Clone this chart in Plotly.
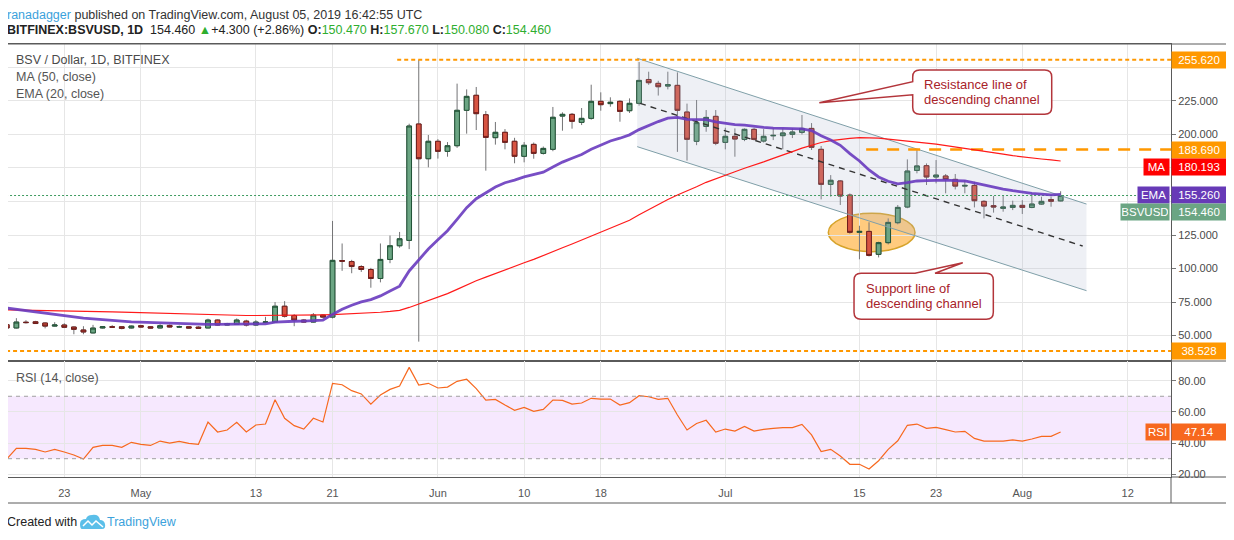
import pandas as pd
import plotly.graph_objects as go

# --- data (BSV / USD, daily, Bitfinex) ---
start = pd.Timestamp("2019-04-17")
dates = pd.date_range(start, periods=111, freq="D")

opens = [58.1, 55.7, 60.0, 60.3, 59.4, 57.1, 57.9, 56.4, 54.2, 52.0,
         55.7, 56.6, 56.6, 55.7, 57.4, 56.6, 55.7, 57.6, 56.4, 56.6,
         56.3, 55.7, 61.6, 57.9, 58.4, 60.8, 57.9, 59.8, 60.1, 71.9,
         65.0, 61.6, 60.1, 65.3, 63.8, 106.0, 105.2, 101.5, 99.3, 92.6,
         106.8, 117.0, 121.0, 207.8, 181.9, 194.9, 187.4, 191.6, 218.0, 229.2,
         214.7, 197.6, 201.6, 194.9, 183.7, 192.6, 185.9, 188.9, 213.7, 215.0,
         209.0, 212.0, 224.7, 223.0, 224.7, 217.7, 223.2, 241.0, 238.1, 236.1,
         236.6, 216.7, 194.9, 206.0, 213.5, 194.1, 198.6, 196.3, 203.8, 195.1,
         199.0, 199.1, 200.1, 201.6, 204.5, 188.9, 162.8, 165.3, 154.8, 127.0,
         127.7, 110.6, 119.3, 134.2, 145.9, 173.2, 176.7, 168.3, 169.0, 166.5,
         161.5, 162.0, 150.1, 146.9, 144.9, 145.6, 147.1, 145.6, 148.1, 151.5,
         150.47]
highs = [58.5, 63.0, 61.5, 61.0, 59.8, 60.0, 59.2, 56.8, 57.0, 58.0,
         57.0, 57.8, 57.0, 57.5, 58.0, 57.0, 58.5, 58.3, 57.5, 57.0,
         57.0, 62.6, 62.0, 59.5, 62.8, 61.8, 61.5, 64.0, 75.0, 75.7,
         66.0, 62.2, 66.8, 66.0, 135.5, 118.7, 106.5, 102.5, 100.5, 118.7,
         124.6, 127.3, 208.0, 255.62, 199.6, 196.5, 194.3, 237.9, 233.6, 235.4,
         217.5, 209.3, 204.0, 197.5, 194.3, 194.0, 191.0, 220.5, 216.5, 216.0,
         219.7, 237.1, 231.4, 227.7, 225.5, 226.9, 254.0, 246.8, 240.0, 246.8,
         246.3, 223.0, 225.7, 218.2, 218.2, 205.0, 204.5, 204.5, 205.0, 204.0,
         204.5, 204.5, 204.5, 214.5, 208.5, 191.4, 169.7, 166.0, 156.0, 131.9,
         134.5, 120.0, 137.4, 147.4, 181.4, 188.9, 178.4, 180.9, 170.5, 170.5,
         166.0, 164.7, 151.0, 154.1, 154.1, 150.6, 151.0, 156.1, 153.6, 153.6,
         157.67]
lows = [55.0, 55.3, 59.0, 58.8, 55.4, 56.8, 55.6, 51.0, 51.0, 51.7,
        55.3, 55.7, 54.7, 55.3, 56.0, 55.3, 55.4, 56.0, 55.8, 55.3,
        55.3, 55.5, 57.5, 57.6, 58.0, 56.8, 57.5, 59.2, 59.9, 63.5,
        57.0, 59.8, 59.8, 63.4, 62.8, 98.3, 96.5, 97.5, 85.7, 89.7,
        104.0, 115.5, 114.5, 45.5, 175.5, 182.0, 183.4, 190.0, 200.6, 203.3,
        173.0, 192.4, 188.9, 178.5, 179.2, 181.9, 185.0, 187.5, 202.8, 204.3,
        207.0, 211.0, 217.7, 220.7, 209.5, 216.0, 221.5, 237.0, 229.0, 233.6,
        187.0, 180.5, 192.0, 202.0, 192.0, 188.9, 183.4, 195.0, 195.5, 194.0,
        195.8, 188.9, 197.3, 200.0, 188.4, 151.6, 153.6, 147.4, 126.0, 106.9,
        109.0, 108.3, 118.0, 133.0, 145.0, 171.0, 162.3, 163.5, 156.1, 159.0,
        156.1, 145.6, 137.4, 141.7, 142.4, 143.6, 140.7, 145.0, 147.5, 146.1,
        150.08]
closes = [55.7, 60.1, 59.7, 59.0, 57.1, 57.9, 56.2, 54.7, 52.7, 55.6,
          56.6, 56.3, 55.4, 57.1, 56.4, 55.6, 57.4, 56.4, 56.6, 55.6,
          55.5, 61.6, 57.9, 59.0, 61.6, 57.9, 60.1, 60.2, 71.9, 64.5,
          61.6, 60.1, 65.3, 63.8, 106.1, 105.5, 101.5, 99.3, 92.6, 106.8,
          117.0, 122.2, 206.3, 181.9, 194.9, 187.4, 191.6, 218.0, 228.4, 215.5,
          197.8, 201.6, 194.1, 183.7, 191.9, 185.9, 189.6, 212.8, 215.0, 209.8,
          212.0, 224.7, 222.2, 224.0, 217.2, 223.2, 240.3, 238.6, 235.6, 237.1,
          218.0, 196.4, 208.8, 212.7, 193.4, 198.6, 196.6, 203.8, 196.3, 198.6,
          199.3, 201.1, 201.8, 204.5, 190.4, 162.8, 165.8, 154.1, 127.0, 127.7,
          109.8, 119.3, 134.4, 145.6, 172.7, 176.5, 168.3, 169.7, 166.5, 161.5,
          162.0, 150.6, 146.6, 145.9, 145.9, 147.1, 145.6, 148.1, 150.1, 150.16,
          154.46]
ma50 = [69.2, 69.1, 69.0, 69.0, 68.9, 68.8, 68.7, 68.5, 68.3, 68.1,
        67.9, 67.7, 67.5, 67.3, 67.1, 66.9, 66.6, 66.4, 66.1, 65.8,
        65.5, 65.4, 65.2, 65.1, 65.0, 65.0, 65.0, 65.0, 65.1, 65.2,
        65.2, 65.2, 65.3, 65.4, 65.6, 65.9, 66.2, 66.5, 66.8, 67.4,
        68.0, 68.8, 71.0, 73.5, 76.2, 78.7, 81.3, 84.5, 87.8, 90.9,
        93.6, 96.4, 99.1, 101.6, 104.3, 106.8, 109.5, 112.6, 115.5, 118.3,
        121.2, 124.3, 127.2, 130.1, 132.9, 136.0, 140.1, 144.0, 147.7, 151.5,
        154.9, 157.7, 161.0, 164.3, 167.1, 170.0, 172.2, 174.8, 177.0, 179.6,
        182.2, 184.5, 187.2, 189.8, 192.0, 194.0, 195.4, 196.4, 197.0, 197.6,
        197.6, 197.2, 196.5, 195.8, 195.4, 194.8, 193.6, 192.8, 191.8, 190.6,
        189.4, 188.4, 187.5, 186.4, 185.3, 184.2, 183.2, 182.6, 181.7, 181.0,
        180.193]
ema20 = [70.5, 69.5, 68.5, 67.6, 66.7, 65.6, 64.6, 63.9, 63.1, 62.4,
         61.9, 61.3, 60.8, 60.3, 60.0, 59.6, 59.3, 59.0, 58.7, 58.4,
         58.1, 58.3, 58.3, 58.3, 58.5, 58.5, 58.6, 58.8, 60.0, 60.5,
         60.7, 60.8, 61.2, 61.6, 65.8, 69.6, 72.6, 75.1, 76.8, 79.6,
         83.2, 86.9, 98.2, 106.2, 114.6, 121.5, 128.2, 136.7, 145.4, 152.1,
         156.5, 160.8, 164.0, 165.9, 168.4, 170.0, 171.9, 175.8, 179.4, 182.3,
         185.1, 188.9, 192.1, 195.1, 197.2, 199.7, 203.6, 206.9, 209.6, 212.2,
         212.8, 211.2, 211.0, 211.1, 209.4, 208.4, 207.3, 207.0, 206.0, 205.3,
         204.7, 204.4, 204.1, 204.2, 202.9, 199.0, 195.9, 191.9, 185.7, 180.2,
         173.5, 168.3, 165.1, 163.2, 164.1, 165.3, 165.6, 166.0, 166.0, 165.6,
         165.3, 163.9, 162.2, 160.7, 159.3, 158.1, 156.9, 156.1, 155.5, 155.0,
         155.26]
rsi14 = [29.8, 36.6, 36.6, 36.0, 34.3, 36.0, 34.3, 32.4, 29.8, 37.3,
         38.5, 38.5, 37.3, 40.5, 39.2, 38.5, 41.3, 40.0, 41.1, 39.8,
         39.2, 53.5, 47.1, 48.4, 53.3, 47.1, 51.6, 52.2, 67.8, 55.9,
         51.2, 49.0, 55.9, 53.5, 78.3, 77.4, 73.6, 71.5, 65.0, 70.8,
         74.4, 76.6, 88.5, 77.2, 78.3, 75.3, 75.9, 79.6, 80.9, 74.9,
         67.6, 68.0, 64.4, 61.0, 62.9, 60.3, 61.6, 67.6, 67.4, 65.0,
         65.7, 68.7, 68.2, 68.2, 64.4, 65.9, 70.4, 69.7, 68.0, 68.7,
         58.0, 48.4, 52.6, 54.6, 47.1, 49.0, 47.7, 50.7, 47.7, 48.8,
         49.4, 49.9, 49.9, 52.0, 45.2, 34.5, 36.0, 31.7, 26.4, 26.4,
         23.4, 28.7, 36.0, 41.5, 51.4, 52.2, 49.4, 50.1, 48.6, 47.1,
         47.5, 43.0, 41.3, 41.3, 41.3, 42.0, 41.3, 42.6, 44.3, 44.3,
         47.14]

# drawn objects (day offsets from start, prices)
channel_days = [65.8, 112.7]
channel_upper = [256.8, 148.1]
channel_lower = [190.9, 83.5]
mid_days = [66.1, 112.3]
mid_line = [223.2, 116.8]
level_values = [255.62, 188.69, 38.528]
level_from = [40.75, 89.7, -3.0]
ellipse_days = [85.75, 94.8]
ellipse_prices = [112.6, 141.2]
rsi_bands = [30, 70]

tick_days = ["2019-04-23", "2019-05-01", "2019-05-13", "2019-05-21", "2019-06-01", "2019-06-10",
             "2019-06-18", "2019-07-01", "2019-07-15", "2019-07-23", "2019-08-01", "2019-08-12"]
tick_text = ["23", "May", "13", "21", "Jun", "10", "18", "Jul", "15", "23", "Aug", "12"]
price_ticks = [50, 75, 100, 125, 150, 175, 200, 225, 250]
price_tick_text = ["50.000", "75.000", "100.000", "125.000", "", "", "200.000", "225.000", ""]
rsi_ticks = [20, 40, 60, 80]

# the page puts the figure 8px in from the corner, so work in screen pixels and shift
OFF = 8
W, H = 1234 - OFF, 540 - OFF
ML, MR, MT, MB = 0, 63, 44 - OFF, 63
PW, PH = W - ML - MR, H - MT - MB
FONT = "Liberation Sans"
GREEN, RED = "#6ba583", "#d75442"
ORANGE = "#ff9800"


def day(offset):
    return start + pd.Timedelta(days=offset)


def dstr(offset):
    return day(offset).strftime("%Y-%m-%d %H:%M:%S")


def fx(px):
    return (px - OFF - ML) / PW


def fy(py):
    return (H - MB - (py - OFF)) / PH


far = day(140)
fig = go.Figure()

# descending channel
cx = [day(d) for d in channel_days]
fig.add_trace(go.Scatter(x=[cx[0], cx[1], cx[1], cx[0], cx[0]],
                         y=[channel_upper[0], channel_upper[1], channel_lower[1], channel_lower[0], channel_upper[0]],
                         fill="toself", fillcolor="rgba(170,182,205,0.2)", mode="lines",
                         line=dict(width=0), hoverinfo="skip"))
for ys in (channel_upper, channel_lower):
    fig.add_trace(go.Scatter(x=cx, y=ys, mode="lines", line=dict(color="#7f9fa8", width=1), hoverinfo="skip"))
fig.add_trace(go.Scatter(x=[day(d) for d in mid_days], y=mid_line, mode="lines",
                         line=dict(color="#333333", width=1.4, dash="6px,5px"), hoverinfo="skip"))

# horizontal levels
fig.add_trace(go.Scatter(x=[day(level_from[0]), far], y=[level_values[0]] * 2, mode="lines",
                         line=dict(color=ORANGE, width=2, dash="4px,3px"), hoverinfo="skip"))
fig.add_trace(go.Scatter(x=[day(level_from[1]), far], y=[level_values[1]] * 2, mode="lines",
                         line=dict(color=ORANGE, width=2.5, dash="12px,9px"), hoverinfo="skip"))
fig.add_trace(go.Scatter(x=[day(level_from[2]), far], y=[level_values[2]] * 2, mode="lines",
                         line=dict(color=ORANGE, width=2, dash="4px,3px"), hoverinfo="skip"))
fig.add_trace(go.Scatter(x=[day(-3), far], y=[closes[-1]] * 2, mode="lines",
                         line=dict(color="#3d9a5f", width=1, dash="2px,2px"), hoverinfo="skip"))

# candles: gray wicks underneath, bordered bodies on top
fig.add_trace(go.Candlestick(x=dates, open=opens, high=highs, low=lows, close=closes,
                             increasing=dict(line=dict(color="#737375", width=1), fillcolor=GREEN),
                             decreasing=dict(line=dict(color="#737375", width=1), fillcolor=RED),
                             hoverinfo="skip"))
body_hi = [max(o, c) for o, c in zip(opens, closes)]
body_lo = [min(o, c) for o, c in zip(opens, closes)]
fig.add_trace(go.Candlestick(x=dates, open=opens, high=body_hi, low=body_lo, close=closes,
                             increasing=dict(line=dict(color="#225437", width=1), fillcolor=GREEN),
                             decreasing=dict(line=dict(color="#6f1d1b", width=1), fillcolor=RED),
                             hoverinfo="skip"))

fig.add_trace(go.Scatter(x=dates, y=ma50, mode="lines", line=dict(color="#ff1a1a", width=1.2), hoverinfo="skip"))
fig.add_trace(go.Scatter(x=dates, y=ema20, mode="lines", line=dict(color="#6a3bbf", width=2.8),
                         opacity=0.9, hoverinfo="skip"))

# RSI pane
fig.add_trace(go.Scatter(x=dates, y=rsi14, mode="lines", line=dict(color="#f7681e", width=1.2),
                         xaxis="x2", yaxis="y2", hoverinfo="skip"))

xrange = [day(0.125), day(121.52)]
axis_common = dict(type="date", range=xrange, tickvals=tick_days, ticktext=tick_text,
                   showgrid=True, gridcolor="#e6e6e6", showline=True, linecolor="#5a5a5a",
                   mirror=True, zeroline=False)
split = fy(361)

fig.update_layout(
    width=W, height=H, autosize=False,
    margin=dict(l=ML, r=MR, t=MT, b=MB),
    paper_bgcolor="white", plot_bgcolor="white",
    showlegend=False, hovermode=False,
    font=dict(family=FONT, size=11, color="#4a4a4a"),
    xaxis=dict(axis_common, domain=[0, 1], anchor="y", showticklabels=False,
               rangeslider=dict(visible=False)),
    yaxis=dict(domain=[split, 1], range=[31.06, 267.45], side="right",
               tickvals=price_ticks, ticktext=price_tick_text,
               ticks="outside", ticklen=4, tickcolor="#777", gridcolor="#e6e6e6",
               showline=True, linecolor="#5a5a5a", mirror=True, zeroline=False,
               tickfont=dict(size=11, color="#4a4a4a")),
    xaxis2=dict(axis_common, domain=[0, 1], anchor="y2", ticks="outside", ticklen=6,
                tickcolor="rgba(0,0,0,0)", tickfont=dict(size=11, color="#555")),
    yaxis2=dict(domain=[0, split], range=[18.27, 92.6], side="right",
                tickvals=rsi_ticks, ticktext=["%.2f" % v for v in rsi_ticks],
                ticks="outside", ticklen=4, tickcolor="#777", gridcolor="#e6e6e6",
                showline=True, linecolor="#5a5a5a", mirror=True, zeroline=False,
                tickfont=dict(size=11, color="#4a4a4a")),
)

# RSI band
fig.add_shape(type="rect", xref="x2 domain", yref="y2", x0=0, x1=1, y0=rsi_bands[0], y1=rsi_bands[1],
              fillcolor="rgba(150,0,240,0.09)", line=dict(width=0), layer="below")
for b in rsi_bands:
    fig.add_shape(type="line", xref="x2 domain", yref="y2", x0=0, x1=1, y0=b, y1=b,
                  line=dict(color="#a0a0a0", width=1, dash="4px,4px"))

# highlighted bounce
fig.add_shape(type="circle", xref="x", yref="y", x0=day(ellipse_days[0]), x1=day(ellipse_days[1]),
              y0=ellipse_prices[0], y1=ellipse_prices[1], fillcolor="rgba(255,160,20,0.55)",
              line=dict(color="#d6a32a", width=1.5), layer="below")

# outer frame
fig.add_shape(type="rect", xref="paper", yref="paper", x0=fx(7), x1=fx(1232), y0=fy(503), y1=1,
              line=dict(color="#5a5a5a", width=1))
fig.add_shape(type="line", xref="paper", yref="paper", x0=1, x1=1, y0=fy(503), y1=0,
              line=dict(color="#5a5a5a", width=1))
for yy in (361, 477):
    fig.add_shape(type="line", xref="paper", yref="paper", x0=1, x1=fx(1232), y0=fy(yy), y1=fy(yy),
                  line=dict(color="#5a5a5a", width=1))


def callout(tip_day, tip_price, L, R, T, B, base, lines, text_dx, text_dy, side):
    r = 7
    if side == "left":
        path = (f"M0,0 L{L},{base[0]} L{L},{B + r} Q{L},{B} {L + r},{B} L{R - r},{B} Q{R},{B} {R},{B + r} "
                f"L{R},{T - r} Q{R},{T} {R - r},{T} L{L + r},{T} Q{L},{T} {L},{T - r} L{L},{base[1]} Z")
    else:
        path = (f"M0,0 L{base[1]},{T} L{R - r},{T} Q{R},{T} {R},{T - r} L{R},{B + r} Q{R},{B} {R - r},{B} "
                f"L{L + r},{B} Q{L},{B} {L},{B + r} L{L},{T - r} Q{L},{T} {L + r},{T} L{base[0]},{T} Z")
    fig.add_shape(type="path", xref="x", yref="y", xsizemode="pixel", ysizemode="pixel",
                  xanchor=dstr(tip_day), yanchor=tip_price, path=path, fillcolor="white",
                  line=dict(color="#b3353b", width=1.5), layer="above")
    for txt, dy in zip(lines, text_dy):
        fig.add_annotation(x=dstr(tip_day), y=tip_price, xref="x", yref="y", text=txt, showarrow=False,
                           xanchor="left", yanchor="middle", xshift=text_dx, yshift=dy, borderpad=0,
                           font=dict(family=FONT, size=13, color="#a8232a"))


callout(84.81, 223.68, 93.4, 232.4, 32.7, -11.6, (8.0, 21.0),
        ["Resistance line of", "descending channel"], 103.4, [18.4, 3.2], "left")
callout(99.78, 104.36, -108.7, 30.6, -10.6, -56.6, (-47.7, -27.7),
        ["Support line of", "descending channel"], -97.7, [-25.4, -40.6], "top")


def text(px, py, s, size=12.5, color="#4a4a4a"):
    fig.add_annotation(x=fx(px), y=fy(py), xref="paper", yref="paper", text=s, showarrow=False,
                       xanchor="left", yanchor="middle", font=dict(family=FONT, size=size, color=color))


g = "#2fae2f"
text(5, 14.5, "<span style='color:#3ba2dc'>ranadagger</span> published on TradingView.com, August 05, 2019 16:42:55 UTC",
     size=12.5, color="#333")
text(5, 30.5, "<b>BITFINEX:BSVUSD, 1D</b>  154.460 <span style='color:#2fae2f'>▲</span>+4.300 (+2.86%) "
     f"<b>O:</b><span style='color:{g}'>150.470</span> <b>H:</b><span style='color:{g}'>157.670</span> "
     f"<b>L:</b><span style='color:{g}'>150.080</span> <b>C:</b><span style='color:{g}'>154.460</span>",
     size=12.5, color="#222")
text(14, 60, "BSV / Dollar, 1D, BITFINEX", size=12.5, color="#4a4a4a")
text(14, 77, "MA (50, close)", size=12.5, color="#555")
text(14, 94, "EMA (20, close)", size=12.5, color="#555")
text(14, 378, "RSI (14, close)", size=12.5, color="#555")
text(5, 522, "Created with", size=12.5, color="#222")
text(105, 522, "TradingView", size=12.5, color="#3ba2dc")

# small TradingView logo
fig.add_shape(type="path", xref="paper", yref="paper", xsizemode="pixel", ysizemode="pixel",
              xanchor=fx(80), yanchor=fy(529),
              path="M2,0 L22,0 Q26,0 25,5 Q24,9 20,9 Q19,15 12,14 Q7,14 6,10 Q0,10 0,5 Q0,0 2,0 Z",
              fillcolor="#5bbfe9", line=dict(width=0))
fig.add_shape(type="path", xref="paper", yref="paper", xsizemode="pixel", ysizemode="pixel",
              xanchor=fx(80), yanchor=fy(529), path="M3,3 L8,8 L12,4 L16,8 L23,2",
              line=dict(color="white", width=1.5))


def axis_box(y, s, color, yshift=0, yref="y", name=None, name_w=0):
    fig.add_annotation(x=1, y=y, xref="paper", yref=yref, text=s, showarrow=False, xanchor="left",
                       yanchor="middle", yshift=yshift, bgcolor=color, width=52, height=14, borderpad=1,
                       font=dict(family=FONT, size=11.5, color="white"))
    if name:
        fig.add_annotation(x=1, y=y, xref="paper", yref=yref, text=name, showarrow=False, xanchor="right",
                           yanchor="middle", yshift=yshift, xshift=-1, bgcolor=color, width=name_w,
                           height=14, borderpad=1, font=dict(family=FONT, size=11.5, color="white"))


axis_box(level_values[0], "%.3f" % level_values[0], ORANGE)
axis_box(level_values[1], "%.3f" % level_values[1], ORANGE)
axis_box(level_values[2], "%.3f" % level_values[2], ORANGE)
axis_box(ma50[-1], "%.3f" % ma50[-1], "#ff0000", yshift=-6, name="MA", name_w=23)
axis_box(ema20[-1], "%.3f" % ema20[-1], "#673ab7", yshift=-1, name="EMA", name_w=29)
axis_box(closes[-1], "%.3f" % closes[-1], GREEN, yshift=-16.5, name="BSVUSD", name_w=46)
axis_box(rsi14[-1], "%.2f" % rsi14[-1], "#f7681e", yref="y2", name="RSI", name_w=21)

fig.write_html("out.html")
